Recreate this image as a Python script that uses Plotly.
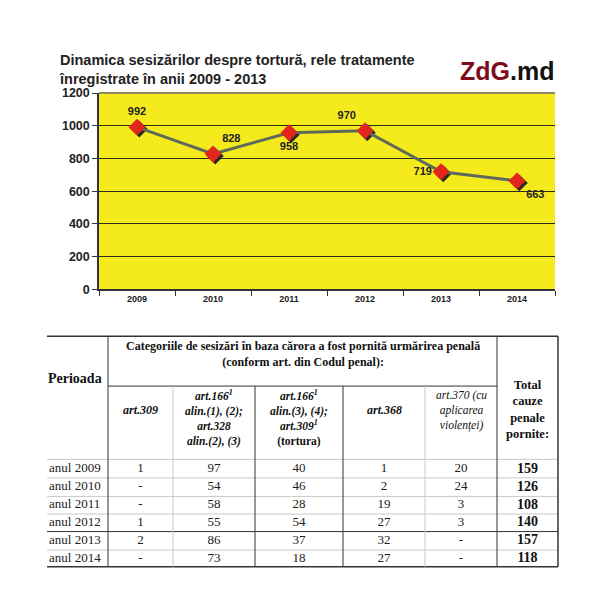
import plotly.graph_objects as go

# ---------------------------------------------------------------------------
# Data
# ---------------------------------------------------------------------------
YEARS = ["2009", "2010", "2011", "2012", "2013", "2014"]
SESIZARI = [992, 828, 958, 970, 719, 663]
LABEL_POS = ["top center", "top right", "bottom center", "top left", "middle left", "bottom right"]

ROW_LABELS = ["anul 2009", "anul 2010", "anul 2011", "anul 2012", "anul 2013", "anul 2014"]
ART_309 = ["1", "-", "-", "1", "2", "-"]
ART_166_1_2 = ["97", "54", "58", "55", "86", "73"]
ART_166_3_4 = ["40", "46", "28", "54", "37", "18"]
ART_368 = ["1", "2", "19", "27", "32", "27"]
ART_370 = ["20", "24", "3", "3", "-", "-"]
TOTAL = ["159", "126", "108", "140", "157", "118"]

# ---------------------------------------------------------------------------
# Style
# ---------------------------------------------------------------------------
YELLOW = "#f5eb1c"
RED = "#e3261b"
LINE_COLOR = "#5e6b5a"
DARK = "#222222"
SANS = "Liberation Sans, Arial"
SERIF = "Liberation Serif, Times New Roman"
TBL_DARK = "#333333"
TBL_LIGHT = "#c8c8c8"

PAGE_W, PAGE_H = 600, 604
OFF = 8                       # default body margin of the html page
W, H = PAGE_W - OFF, PAGE_H - OFF


def px(x):
    return (x - OFF) / W


def py(y):
    return 1 - (y - OFF) / H


fig = go.Figure()

# ---------------------------------------------------------------------------
# Line chart
# ---------------------------------------------------------------------------
xi = list(range(len(YEARS)))

fig.add_trace(go.Scatter(
    x=[v + 0.03 for v in xi], y=[v - 12 for v in SESIZARI],
    mode="markers",
    marker=dict(symbol="diamond", size=13, color="#2a2a20"),
    hoverinfo="skip", showlegend=False,
))
fig.add_trace(go.Scatter(
    x=xi, y=SESIZARI,
    mode="lines+markers+text",
    line=dict(color=LINE_COLOR, width=3),
    marker=dict(symbol="diamond", size=13, color=RED),
    text=[str(v) for v in SESIZARI],
    textposition=LABEL_POS,
    textfont=dict(family=SANS, size=11, color=DARK, weight="bold"),
    showlegend=False,
))

fig.add_shape(type="rect", xref="x domain", yref="y domain",
              x0=0, x1=1, y0=0, y1=1, fillcolor=YELLOW, line_width=0, layer="below")
fig.add_shape(type="line", xref="x domain", yref="y domain",
              x0=0, x1=1, y0=1, y1=1, line=dict(color="#8c8a5e", width=2))

fig.update_xaxes(
    domain=[px(99), px(555)], range=[-0.5, 5.5],
    tickvals=xi, ticktext=YEARS, ticks="",
    tickfont=dict(family=SANS, size=9, color=DARK, weight="bold"),
    showgrid=False, zeroline=False,
    showline=True, linecolor="#333", linewidth=1.5,
    minor=dict(tickvals=[v - 0.5 for v in range(len(YEARS) + 1)],
               ticks="outside", ticklen=5, tickcolor="#333", showgrid=False),
    fixedrange=True,
)
fig.update_yaxes(
    domain=[py(289), py(88)], range=[0, 1200], dtick=200,
    tickfont=dict(family=SANS, size=12.5, color=DARK, weight="bold"),
    ticks="outside", ticklen=5, tickcolor="#333",
    showgrid=True, gridcolor="#2b2b22", gridwidth=1.2,
    zeroline=False, showline=True, linecolor="#333", linewidth=1.5,
    fixedrange=True,
)

fig.add_annotation(
    xref="paper", yref="paper", x=px(57), y=py(64),
    xanchor="left", yanchor="middle", align="left", showarrow=False,
    text="Dinamica sesizărilor despre tortură, rele tratamente<br>înregistrate în anii 2009 - 2013",
    font=dict(family=SANS, size=14.5, color=DARK, weight="bold"),
)
fig.add_annotation(
    xref="paper", yref="paper", x=px(507), y=py(65),
    xanchor="center", yanchor="middle", showarrow=False,
    text="<span style='color:#7d0b1b'>ZdG</span>.md",
    font=dict(family=SANS, size=25, color="#111", weight="bold"),
)

# ---------------------------------------------------------------------------
# Table (helper axes in page pixels)
# ---------------------------------------------------------------------------
fig.update_layout(
    xaxis2=dict(domain=[0, 1], range=[OFF, PAGE_W], visible=False, fixedrange=True, anchor="y2"),
    yaxis2=dict(domain=[0, py(330)], range=[PAGE_H, 330], visible=False, fixedrange=True, anchor="x2"),
)

COL_X = [108, 173, 255, 343, 425, 497, 558]
ROW_Y = [473 + i * 18.4 for i in range(len(ROW_LABELS))]


def hline(y, x0, x1, color, width=1):
    fig.add_shape(type="line", xref="x2", yref="y2", x0=x0, x1=x1, y0=y, y1=y,
                  line=dict(color=color, width=width))


def vline(x, y0, y1, color, width=1):
    fig.add_shape(type="line", xref="x2", yref="y2", x0=x, x1=x, y0=y0, y1=y1,
                  line=dict(color=color, width=width))


hline(337, 47, 558, TBL_DARK, 1.5)
hline(388, 108, 497, TBL_DARK)
for y in [463, 482, 501, 519, 537, 556]:
    hline(y, 47, 558, TBL_DARK if y == 537 else TBL_LIGHT)
hline(573, 47, 558, TBL_DARK, 1.5)

vline(108, 337, 573, TBL_DARK)
vline(497, 337, 573, TBL_DARK)
vline(558, 337, 573, TBL_DARK, 1.5)
vline(173, 388, 573, TBL_LIGHT)
vline(255, 388, 573, TBL_DARK)
vline(343, 388, 573, TBL_DARK)
vline(425, 388, 573, TBL_LIGHT)

fig.add_trace(go.Scatter(
    x=[49] * len(ROW_LABELS), y=ROW_Y, xaxis="x2", yaxis="y2",
    mode="text", text=ROW_LABELS, textposition="middle right",
    textfont=dict(family=SERIF, size=13, color=DARK),
    hoverinfo="skip", showlegend=False,
))

centers = [(COL_X[k] + COL_X[k + 1]) / 2 for k in range(len(COL_X) - 1)]
for cx, col, bold in zip(centers, [ART_309, ART_166_1_2, ART_166_3_4, ART_368, ART_370, TOTAL],
                         [False] * 5 + [True]):
    fig.add_trace(go.Scatter(
        x=[cx] * len(col), y=ROW_Y, xaxis="x2", yaxis="y2",
        mode="text", text=col, textposition="middle center",
        textfont=dict(family=SERIF, size=14 if bold else 13, color="#111" if bold else DARK,
                      weight="bold" if bold else "normal"),
        hoverinfo="skip", showlegend=False,
    ))


def cell_text(x, y, lines, size=12, style=""):
    parts = []
    for ln in lines:
        s = style if isinstance(style, str) else style[len(parts)]
        if "i" in s:
            ln = f"<i>{ln}</i>"
        if "b" in s:
            ln = f"<b>{ln}</b>"
        parts.append(ln)
    fig.add_annotation(xref="x2", yref="y2", x=x, y=y, text="<br>".join(parts), showarrow=False,
                       xanchor="center", yanchor="middle", align="center",
                       font=dict(family=SERIF, size=size, color="#111"))


cell_text(75, 380, ["Perioada"], 14, "b")
cell_text(303, 355, ["Categoriile de sesizări în baza cărora a fost pornită urmărirea penală",
                     "(conform art. din Codul penal):"], 12, "b")

cell_text(centers[0], 413, ["art.309"], 12, "bi")
cell_text(centers[3], 413, ["art.368"], 12, "bi")
cell_text(centers[1], 421, ["art.166<sup>1</sup>", "alin.(1), (2);", "art.328", "alin.(2), (3)"], 11.5, "bi")
cell_text(centers[2], 421, ["art.166<sup>1</sup>", "alin.(3), (4);", "art.309<sup>1</sup>", "(tortura)"], 11.5,
          ["bi", "bi", "bi", "b"])
cell_text(centers[4], 413, ["art.370 (cu", "aplicarea", "violenței)"], 11.5, "i")
cell_text(centers[5], 412, ["Total", "cauze", "penale", "pornite:"], 12.5, "b")

fig.update_layout(
    width=W, height=H,
    margin=dict(l=0, r=0, t=0, b=0),
    paper_bgcolor="white", plot_bgcolor="rgba(0,0,0,0)",
    showlegend=False,
)

fig.write_html("out.html")
